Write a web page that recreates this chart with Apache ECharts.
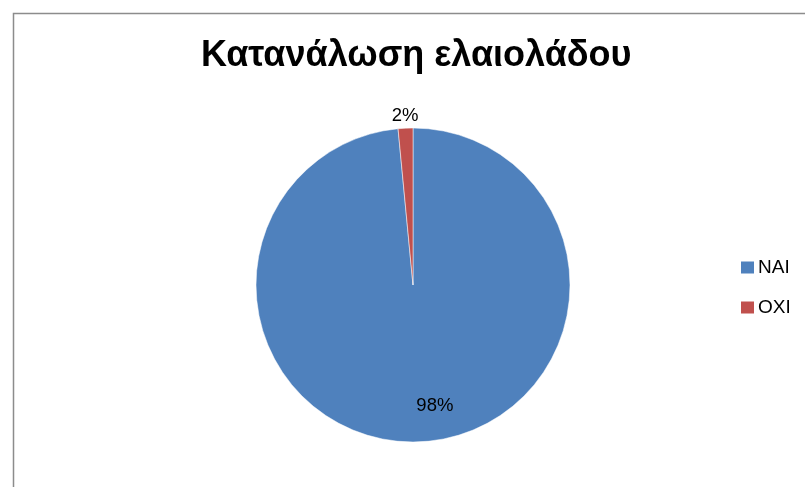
<!DOCTYPE html>
<html><head><meta charset="utf-8">
<script src="https://cdn.jsdelivr.net/npm/echarts@6/dist/echarts.min.js"></script>
<style>html,body{margin:0;padding:0;background:#fff}#c{width:805px;height:487px}</style>
</head><body><div id="c"></div>
<script>
const titleText = 'Κατανάλωση ελαιολάδου';
const categories = ['NAI', 'OXI'];
const values = [65, 1];
const colors = ['#4F81BD', '#C0504D'];

const chart = echarts.init(document.getElementById('c'));
chart.setOption({
  animation: false,
  backgroundColor: '#fff',
  title: {
    text: titleText, left: 196, top: 33,
    textStyle: {fontFamily: 'Liberation Sans', fontWeight: 'bold', fontSize: 36, color: '#000'}
  },
  graphic: [{
    type: 'rect', left: 11, top: 11, silent: true,
    shape: {width: 900, height: 900},
    style: {fill: 'none', stroke: '#8c8c8c', lineWidth: 1.5}
  }],
  legend: {
    orient: 'vertical', left: 734, top: 253, itemGap: 21,
    itemWidth: 15, itemHeight: 14, icon: 'rect',
    textStyle: {fontFamily: 'Liberation Sans', fontSize: 19, color: '#000', padding: [0,0,0,-2]},
    data: categories
  },
  series: [{
    type: 'pie', center: [413, 285], radius: 157, startAngle: 90, clockwise: true,
    percentPrecision: 0,
    itemStyle: {borderColor: '#fff', borderWidth: 0.5},
    label: {formatter: '{d}%', fontFamily: 'Liberation Sans', fontSize: 18.5, color: '#000'},
    labelLine: {show: false},
    labelLayout: function (p) {
      return p.dataIndex === 0 ? {dx: 18, dy: 39} : {dx: 18, dy: -9};
    },
    data: categories.map((n, i) => ({
      name: n, value: values[i], itemStyle: {color: colors[i]},
      label: i === 0 ? {position: 'inside'} : {position: 'outside'},
      labelLine: {length: 3, length2: 0, show: false}
    }))
  }]
});
</script></body></html>
